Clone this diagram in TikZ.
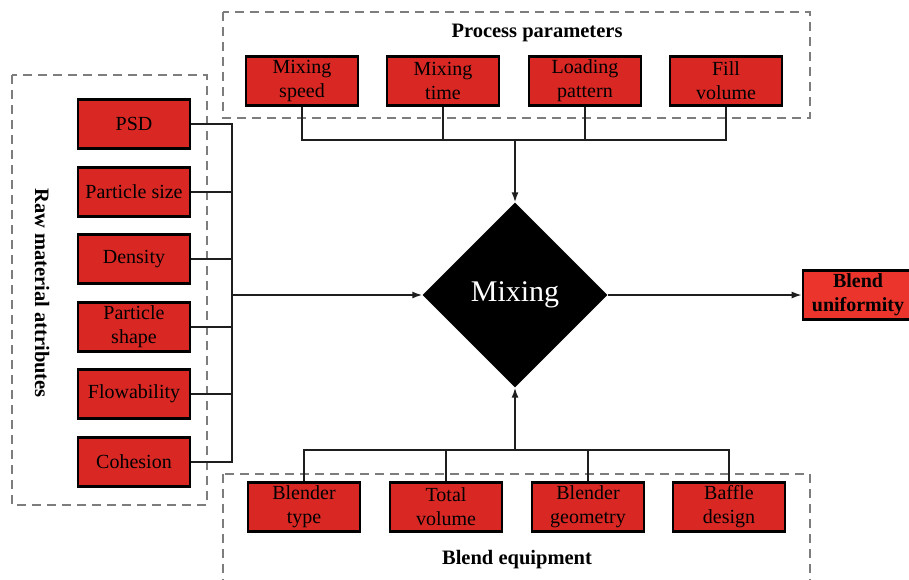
\documentclass[tikz,border=0pt]{standalone}
\usepackage{fontspec}
\setmainfont{Liberation Serif}
\usetikzlibrary{shapes.geometric,arrows.meta}
\definecolor{boxred}{RGB}{217,40,36}
\definecolor{outred}{RGB}{234,52,44}
\definecolor{dashgray}{RGB}{125,125,125}
\definecolor{linegray}{RGB}{30,30,30}
\tikzset{
 attr/.style={draw=black, line width=2.6pt, fill=boxred, minimum width=112pt, minimum height=49pt, inner sep=0pt, align=center, font=\fontsize{20}{24}\selectfont},
 grp/.style={draw=dashgray, line width=1.8pt, dash pattern=on 9pt off 6pt},
 conn/.style={draw=linegray, line width=1.6pt},
 arr/.style={conn, -{Latex[length=10pt,width=7pt]}},
 grptitle/.style={font=\fontsize{20.5}{24}\selectfont\bfseries}
}
\begin{document}
\begin{tikzpicture}[x=1pt,y=-1pt]
\useasboundingbox (0,0) rectangle (909,579);
\fill[white] (0,0) rectangle (909,579);
% group frames
\draw[grp] (223,12) rectangle (810,118);
\draw[grp] (12,75) rectangle (207,505);
\draw[grp] (223,474) rectangle (810,590);
% group titles
\node[grptitle] (tp) at (537,33) {Process parameters};
\node[grptitle, rotate=-90] (tr) at (42,293) {Raw material attributes};
\node[grptitle] (tb) at (517,560) {Blend equipment};
% process parameters
\node[attr] (p1) at (302,81) {Mixing\\speed};
\node[attr] (p2) at (443,81) {Mixing\\time};
\node[attr] (p3) at (585,81) {Loading\\pattern};
\node[attr] (p4) at (726,81) {Fill\\volume};
% raw material attributes
\node[attr] (r1) at (134,124) {PSD};
\node[attr] (r2) at (134,192) {Particle size};
\node[attr] (r3) at (134,259) {Density};
\node[attr] (r4) at (134,327) {Particle\\shape};
\node[attr] (r5) at (134,394) {Flowability};
\node[attr] (r6) at (134,462) {Cohesion};
% blend equipment
\node[attr] (b1) at (304,507) {Blender\\type};
\node[attr] (b2) at (446,507) {Total\\volume};
\node[attr] (b3) at (588,507) {Blender\\geometry};
\node[attr] (b4) at (729,507) {Baffle\\design};
% mixing
\node[diamond, fill=black, minimum width=185pt, minimum height=185pt, inner sep=0pt, text=white, font=\fontsize{30}{34}\selectfont] (mix) at (515,295) {Mixing};
% output
\node[attr, fill=outred, minimum width=110pt, font=\fontsize{20}{24}\selectfont\bfseries] (out) at (858,295) {Blend\\uniformity};
% bus coordinates
\coordinate (tbus) at (515,140);
\coordinate (lbus) at (232,295);
\coordinate (bbus) at (515,450);
% top connectors
\draw[conn] (p1.south) -- (p1.south |- tbus) -- (p4.south |- tbus) -- (p4.south);
\draw[conn] (p2.south) -- (p2.south |- tbus);
\draw[conn] (p3.south) -- (p3.south |- tbus);
\draw[arr] (tbus) -- (mix.north);
% left connectors
\draw[conn] (r1.east) -- (r1.east -| lbus) -- (r6.east -| lbus) -- (r6.east);
\draw[conn] (r2.east) -- (r2.east -| lbus);
\draw[conn] (r3.east) -- (r3.east -| lbus);
\draw[conn] (r4.east) -- (r4.east -| lbus);
\draw[conn] (r5.east) -- (r5.east -| lbus);
\draw[arr] (lbus) -- (mix.west);
% bottom connectors
\draw[conn] (b1.north) -- (b1.north |- bbus) -- (b4.north |- bbus) -- (b4.north);
\draw[conn] (b2.north) -- (b2.north |- bbus);
\draw[conn] (b3.north) -- (b3.north |- bbus);
\draw[arr] (bbus) -- (mix.south);
% output arrow
\draw[arr] (mix.east) -- (out.west);
\end{tikzpicture}
\end{document}
